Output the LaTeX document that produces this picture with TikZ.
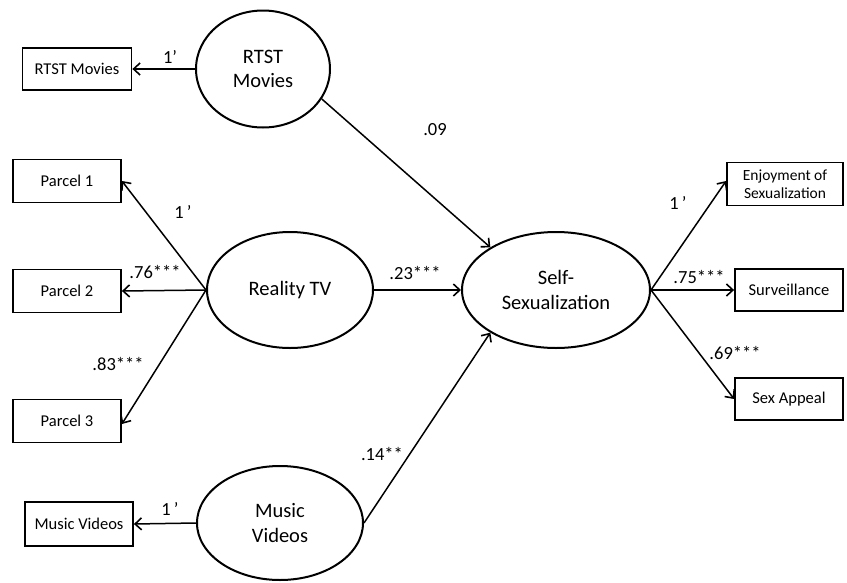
\documentclass[tikz,border=0pt]{standalone}
\usepackage{fontspec}
\setmainfont{Carlito}
\usetikzlibrary{shapes.geometric,arrows.meta}
\tikzset{
  obs/.style={draw, line width=1.8pt, rectangle, minimum width=108pt, minimum height=43pt,
    inner sep=0pt, align=center, font=\fontsize{16.5}{18}\selectfont},
  lat/.style={draw, line width=2pt, ellipse, inner sep=0pt, align=center,
    font=\fontsize{20.5}{24.5}\selectfont},
  path/.style={line width=1.5pt, -{Straight Barb[length=6.5pt,width=12pt,line width=1.6pt]}},
  coef/.style={font=\fontsize{18.5}{20}\selectfont, inner sep=0pt}
}
\begin{document}
\begin{tikzpicture}[x=1pt,y=-1pt]
\useasboundingbox (0,0) rectangle (847,582);

% latent variables
\node[lat, minimum width=134pt, minimum height=117pt] (rtst) at (263,69) {RTST\\Movies};
\node[lat, minimum width=166pt, minimum height=116pt] (rtv) at (290,290) {Reality TV};
\node[lat, minimum width=166pt, minimum height=114pt] (mv) at (280,523) {Music\\Videos};
\node[lat, minimum width=188pt, minimum height=116pt] (self) at (556,290) {Self-\\Sexualization};

% indicators
\node[obs, minimum width=109pt, minimum height=42pt] (rtstm) at (77,69) {RTST Movies};
\node[obs] (p1) at (67,181) {Parcel 1};
\node[obs] (p2) at (67,291) {Parcel 2};
\node[obs] (p3) at (67,421) {Parcel 3};
\node[obs, minimum height=44pt] (mvb) at (79,524) {Music Videos};
\node[obs, minimum width=116pt, minimum height=43pt, font=\fontsize{15.5}{18}\selectfont] (enj) at (785,184) {Enjoyment of\\Sexualization};
\node[obs, minimum height=42pt] (surv) at (789,290) {Surveillance};
\node[obs, minimum height=42pt] (sexap) at (789,399) {Sex Appeal};

% loadings
\draw[path] (rtst.west) -- (rtstm.east);
\draw[path] (rtv.west) -- (p1.east);
\draw[path] (rtv.west) -- (p2.east);
\draw[path] (rtv.west) -- ([yshift=-3pt]p3.east);
\draw[path] (mv.west) -- (mvb.east);
\draw[path] (self.east) -- ([yshift=3pt]enj.west);
\draw[path] (self.east) -- (surv.west);
\draw[path] (self.east) -- (sexap.west);

% structural paths
\draw[path] (rtst.-27) -- (self.147);
\draw[path] (rtv.east) -- (self.west);
\draw[path] (mv.east) -- (self.213);

% coefficients
\node[coef] (c1) at (170,57) {1'};
\node[coef] (c2) at (183,212) {1\,'};
\node[coef] (c3) at (155,272) {.76***};
\node[coef] (c4) at (118,364) {.83***};
\node[coef] (c5) at (170,509) {1\,'};
\node[coef] (c6) at (435,130) {.09};
\node[coef] (c7) at (415,273) {.23***};
\node[coef] (c8) at (382,454) {.14**};
\node[coef] (c9) at (678,203) {1\,'};
\node[coef] (c10) at (699,277) {.75***};
\node[coef] (c11) at (735,353) {.69***};
\end{tikzpicture}
\end{document}
